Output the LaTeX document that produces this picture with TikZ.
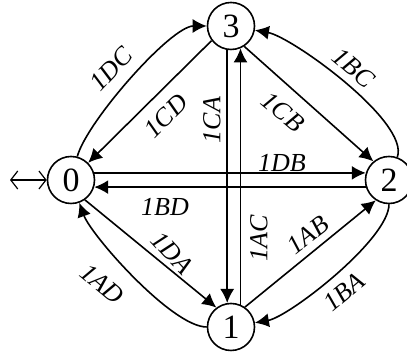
\documentclass[tikz,border=0pt]{standalone}
\usepackage{fontspec}
\setmainfont{Liberation Serif}
\usetikzlibrary{arrows.meta}
\tikzset{
  state/.style={draw, circle, line width=1.6pt, minimum size=47pt, inner sep=0pt,
    font=\fontsize{34}{34}\selectfont},
  trans/.style={line width=1.6pt, -{Latex[length=14pt,width=14pt]}},
  lbl/.style={font=\fontsize{26}{26}\selectfont\itshape, inner sep=0pt}
}
\begin{document}
\begin{tikzpicture}[x=1pt,y=1pt]
\useasboundingbox (0,0) rectangle (407,352);

% States
\node[state] (q0) at (71,172) {0};
\node[state] (q1) at (231,25) {1};
\node[state] (q2) at (389,172) {2};
\node[state] (q3) at (231,326) {3};

\coordinate (init) at (10,172);
\draw[line width=1.2pt, {Straight Barb[length=7pt,width=18pt]}-{Straight Barb[length=7pt,width=18pt]}] (init) -- (q0);

% Transitions
\draw[trans] (q0) to[out=75,in=180,looseness=0.5] (q3);
\draw[trans] (q3.217) -- (q0.45);
\draw[trans] (q3.261) -- (q1.99);
\draw[trans] (q1.67) -- (q3.-67);
\draw[trans] (q3.-57) -- (q2.130);
\draw[trans] (q2) to[out=70,in=-10,looseness=0.5] (q3);
\draw[trans] (q0.17) -- (q2.163);
\draw[trans] (q2.-163) -- (q0.-17);
\draw[trans] (q0.-55) -- (q1.127);
\draw[trans] (q1) to[out=180,in=-70,looseness=0.5] (q0);
\draw[trans] (q1.55) -- (q2.237);
\draw[trans] (q2) to[out=-90,in=10,looseness=0.5] (q1);

% Labels
\node[lbl, rotate=47] (lDC) at (111,283) {1DC};
\node[lbl, rotate=45] (lCD) at (166,236) {1CD};
\node[lbl, rotate=90] (lCA) at (212,232) {1CA};
\node[lbl, rotate=-40] (lCB) at (283,240) {1CB};
\node[lbl, rotate=-40] (lBC) at (354,284) {1BC};
\node[lbl] (lDB) at (282,189) {1DB};
\node[lbl] (lBD) at (165,145) {1BD};
\node[lbl, rotate=90] (lAC) at (259,114) {1AC};
\node[lbl, rotate=38] (lAB) at (308,117) {1AB};
\node[lbl, rotate=-47] (lDA) at (172,99) {1DA};
\node[lbl, rotate=-40] (lAD) at (102,68) {1AD};
\node[lbl, rotate=40] (lBA) at (344,60) {1BA};

\end{tikzpicture}
\end{document}
